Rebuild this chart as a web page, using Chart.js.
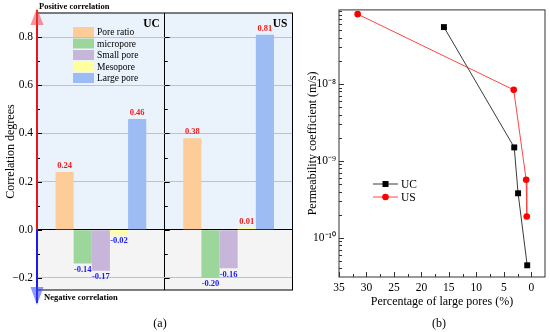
<!DOCTYPE html>
<html>
<head>
<meta charset="utf-8">
<script src="https://cdn.jsdelivr.net/npm/chart.js@4.4.0/dist/chart.umd.min.js"></script>
<style>
    body { margin: 0; background: #fff; width: 550px; height: 332px; position: relative; overflow: hidden; }
    #chartA { position: absolute; left: 0; top: 0; }
    #chartB { position: absolute; left: 296px; top: 0; }
    .cap { position: absolute; top: 316px; width: 40px; text-align: center; font: 12px 'Liberation Serif', serif; line-height: 14px; }
</style>
</head>
<body>
<canvas id="chartA" width="296" height="332"></canvas>
<canvas id="chartB" width="254" height="332"></canvas>
<div class="cap" style="left:140px">(a)</div>
<div class="cap" style="left:419px">(b)</div>
<script>
const SERIF = "'Liberation Serif', 'Times New Roman', serif";

// Datos (a): grado de correlación por tipo de poro
const groups = ['UC', 'US'];
const poreTypes = ['Pore ratio', 'micropore', 'Small pore', 'Mesopore', 'Large pore'];
const poreRatio = [0.24, 0.38];
const micropore = [-0.14, -0.20];
const smallPore = [-0.17, -0.16];
const mesopore = [-0.02, 0.01];
const largePore = [0.46, 0.81];
const poreColors = ['#fdcc98', '#9dd69b', '#c8b5da', '#ffff9c', '#9dbcf3'];
const corrTicks = [-0.2, 0, 0.2, 0.4, 0.6, 0.8];

// Datos (b): coeficiente de permeabilidad vs porcentaje de poros grandes
const ucLarge = [15.9, 3.1, 2.4, 0.74];
const ucPerm = [5.5e-8, 1.5e-9, 3.8e-10, 4.4e-11];
const usLarge = [31.6, 3.2, 0.93, 0.82];
const usPerm = [8.1e-8, 8.4e-9, 5.7e-10, 1.9e-10];
const largeTicks = [0, 5, 10, 15, 20, 25, 30, 35];
const permTicks = [1e-10, 1e-9, 1e-8];

const sup = { '-': '\u207b', '0': '\u2070', '1': '\u00b9', '2': '\u00b2', '3': '\u00b3', '4': '\u2074',
              '5': '\u2075', '6': '\u2076', '7': '\u2077', '8': '\u2078', '9': '\u2079' };

// Fondo azul / gris del panel (a)
const fondoA = {
    id: 'fondoA',
    beforeDraw(chart) {
        const { ctx, chartArea: a, scales: { y } } = chart;
        const y0 = y.getPixelForValue(0);
        ctx.save();
        ctx.fillStyle = '#eaf3fc';
        ctx.fillRect(a.left, a.top, a.right - a.left, y0 - a.top);
        ctx.fillStyle = '#f4f4f4';
        ctx.fillRect(a.left, y0, a.right - a.left, a.bottom - y0);
        ctx.restore();
    },
    afterDraw(chart) {
        const { ctx, chartArea: a, scales: { x, y } } = chart;
        const y0 = y.getPixelForValue(0);
        const xDiv = (x.getPixelForValue(0) + x.getPixelForValue(1)) / 2;
        ctx.save();

        // marco
        ctx.strokeStyle = '#000';
        ctx.lineWidth = 1;
        ctx.strokeRect(a.left, a.top, a.right - a.left, a.bottom - a.top);

        // ticks hacia dentro
        ctx.beginPath();
        for (let k = -2; k <= 8; k++) {
            const py = Math.round(y.getPixelForValue(k / 10)) + 0.5;
            const len = k % 2 === 0 ? 5 : 3;
            ctx.moveTo(a.left, py); ctx.lineTo(a.left + len, py);
            ctx.moveTo(xDiv, py); ctx.lineTo(xDiv + len, py);
        }
        ctx.stroke();

        // etiquetas de valores
        ctx.font = 'bold 8.5px ' + SERIF;
        ctx.textAlign = 'center';
        ctx.textBaseline = 'middle';
        chart.data.datasets.forEach((ds, i) => {
            chart.getDatasetMeta(i).data.forEach((bar, j) => {
                const v = ds.data[j];
                ctx.fillStyle = v >= 0 ? '#f21c1c' : '#1c1cf0';
                ctx.fillText(v.toFixed(2), bar.x, v >= 0 ? bar.y - 6 : bar.y + 6);
            });
        });

        // UC / US
        ctx.fillStyle = '#000';
        ctx.font = 'bold 11.5px ' + SERIF;
        ctx.textAlign = 'right';
        groups.forEach((g, j) => {
            const right = x.getPixelForValue(j) + (x.getPixelForValue(1) - x.getPixelForValue(0)) / 2;
            ctx.fillText(g, right - 5, a.top + 11);
        });

        // leyenda
        ctx.font = '9.5px ' + SERIF;
        ctx.textAlign = 'left';
        chart.data.datasets.forEach((ds, i) => {
            const cy = 32 + i * 11.5;
            ctx.fillStyle = ds.backgroundColor;
            ctx.fillRect(73, cy - 5, 21, 10);
            ctx.fillStyle = '#000';
            ctx.fillText(ds.label, 97, cy + 0.5);
        });

        // flechas de correlación
        const ax = a.left;
        ctx.strokeStyle = '#e8141b';
        ctx.lineWidth = 2;
        ctx.beginPath(); ctx.moveTo(ax, y0); ctx.lineTo(ax, 10); ctx.stroke();
        ctx.fillStyle = 'rgba(245,60,70,0.55)';
        ctx.beginPath(); ctx.moveTo(ax - 6.5, 25); ctx.lineTo(ax + 6.5, 25); ctx.lineTo(ax, 8); ctx.closePath(); ctx.fill();

        ctx.strokeStyle = '#1a1aee';
        ctx.beginPath(); ctx.moveTo(ax, y0); ctx.lineTo(ax, 303); ctx.stroke();
        ctx.fillStyle = 'rgba(50,70,255,0.55)';
        ctx.beginPath(); ctx.moveTo(ax - 6.5, 287); ctx.lineTo(ax + 6.5, 287); ctx.lineTo(ax, 305); ctx.closePath(); ctx.fill();

        ctx.fillStyle = '#000';
        ctx.font = 'bold 8.5px ' + SERIF;
        ctx.textBaseline = 'middle';
        ctx.fillText('Positive correlation', 39, 7);
        ctx.fillText('Negative correlation', 44, 298);
        ctx.restore();
    }
};

// Marco, ticks y leyenda del panel (b)
const marcoB = {
    id: 'marcoB',
    afterDraw(chart) {
        const { ctx, chartArea: a, scales: { x, y } } = chart;
        ctx.save();
        ctx.strokeStyle = '#333';
        ctx.lineWidth = 1;
        ctx.strokeRect(a.left, a.top, a.right - a.left, a.bottom - a.top);

        ctx.beginPath();
        for (let e = -11; e <= -8; e++) {
            for (let m = 1; m <= 9; m++) {
                const v = m * Math.pow(10, e);
                if (v < y.min || v > y.max) continue;
                const py = Math.round(y.getPixelForValue(v)) + 0.5;
                ctx.moveTo(a.left, py); ctx.lineTo(a.left + (m === 1 ? 5 : 3), py);
            }
        }
        for (let k = 0; k <= 14; k++) {
            const px = Math.round(x.getPixelForValue(k * 2.5)) + 0.5;
            ctx.moveTo(px, a.bottom); ctx.lineTo(px, a.bottom - (k % 2 === 0 ? 5 : 3));
        }
        ctx.stroke();

        // leyenda
        ctx.font = '11.5px ' + SERIF;
        ctx.textAlign = 'left';
        ctx.textBaseline = 'middle';
        chart.data.datasets.forEach((ds, i) => {
            const cy = 184 + i * 13;
            ctx.strokeStyle = ds.borderColor;
            ctx.beginPath(); ctx.moveTo(77, cy); ctx.lineTo(102, cy); ctx.stroke();
            ctx.fillStyle = ds.pointBackgroundColor;
            if (ds.pointStyle === 'rect') {
                ctx.fillRect(89.5 - 3, cy - 3, 6, 6);
            } else {
                ctx.beginPath(); ctx.arc(89.5, cy, ds.pointRadius, 0, Math.PI * 2); ctx.fill();
            }
            ctx.fillStyle = '#000';
            ctx.fillText(ds.label, 105, cy + 0.5);
        });
        ctx.restore();
    }
};

function initGraficaCorrelacion() {
    const series = [poreRatio, micropore, smallPore, mesopore, largePore];
    new Chart(document.getElementById('chartA').getContext('2d'), {
        type: 'bar',
        data: {
            labels: groups,
            datasets: poreTypes.map((name, i) => ({
                label: name,
                data: series[i],
                backgroundColor: poreColors[i],
                borderWidth: 0,
                categoryPercentage: 0.71,
                barPercentage: 1
            }))
        },
        options: {
            responsive: false,
            animation: false,
            layout: { padding: { top: 13, right: 3.5, bottom: 42, left: 0 } },
            plugins: { legend: { display: false }, tooltip: { enabled: false } },
            scales: {
                x: {
                    ticks: { display: false },
                    grid: { color: '#000', drawTicks: false, offset: true },
                    border: { display: false },
                    afterFit: s => { s.height = 0; }
                },
                y: {
                    min: -0.25,
                    max: 0.9,
                    afterBuildTicks: s => { s.ticks = corrTicks.map(v => ({ value: v })); },
                    afterFit: s => { s.width = 37; },
                    grid: {
                        drawTicks: false,
                        color: c => (c.tick && c.tick.value === 0 ? '#000' : '#c2c2c2')
                    },
                    border: { display: false },
                    ticks: {
                        color: '#000',
                        padding: 4,
                        font: { family: SERIF, size: 11.5 },
                        callback: v => (v < 0 ? '\u2212' + Math.abs(v).toFixed(1) : v.toFixed(1))
                    },
                    title: {
                        display: true,
                        text: 'Correlation degrees',
                        color: '#000',
                        font: { family: SERIF, size: 12 },
                        padding: { top: 4, bottom: 0 }
                    }
                }
            }
        },
        plugins: [fondoA]
    });
}

function initGraficaPermeabilidad() {
    new Chart(document.getElementById('chartB').getContext('2d'), {
        type: 'line',
        data: {
            datasets: [{
                label: 'UC',
                data: ucLarge.map((v, i) => ({ x: v, y: ucPerm[i] })),
                borderColor: '#3a3a3a',
                borderWidth: 1,
                pointStyle: 'rect',
                pointRadius: 4.2,
                pointBorderWidth: 0,
                pointBackgroundColor: '#000',
                pointBorderColor: '#000'
            }, {
                label: 'US',
                data: usLarge.map((v, i) => ({ x: v, y: usPerm[i] })),
                borderColor: '#ff4545',
                borderWidth: 1,
                pointStyle: 'circle',
                pointRadius: 3.3,
                pointBorderWidth: 0,
                pointBackgroundColor: '#ff0000',
                pointBorderColor: '#ff0000'
            }]
        },
        options: {
            responsive: false,
            animation: false,
            layout: { padding: { top: 5, right: 5, bottom: 0, left: 0 } },
            plugins: { legend: { display: false }, tooltip: { enabled: false } },
            scales: {
                x: {
                    type: 'linear',
                    reverse: true,
                    min: -2.5,
                    max: 35,
                    afterBuildTicks: s => { s.ticks = largeTicks.map(v => ({ value: v })); },
                    afterFit: s => { s.height = 55; },
                    grid: { display: false, drawTicks: false },
                    border: { display: false },
                    ticks: { color: '#000', padding: 4, autoSkip: false, font: { family: SERIF, size: 11.5 } },
                    title: {
                        display: true,
                        text: 'Percentage of large pores (%)',
                        color: '#000',
                        font: { family: SERIF, size: 12 },
                        padding: { top: 0, bottom: 22.8 }
                    }
                },
                y: {
                    type: 'logarithmic',
                    min: 3.1e-11,
                    max: 9.2e-8,
                    afterBuildTicks: s => { s.ticks = permTicks.map(v => ({ value: v })); },
                    afterFit: s => { s.width = 43; },
                    grid: { display: false, drawTicks: false },
                    border: { display: false },
                    ticks: {
                        color: '#000',
                        padding: 3,
                        autoSkip: false,
                        font: { family: SERIF, size: 11.5 },
                        callback: v => '10' + String(Math.round(Math.log10(v))).split('').map(c => sup[c]).join('')
                    },
                    title: {
                        display: true,
                        text: 'Permeability coefficient (m/s)',
                        color: '#000',
                        font: { family: SERIF, size: 12 },
                        padding: { top: 9.8, bottom: 0 }
                    }
                }
            }
        },
        plugins: [marcoB]
    });
}

initGraficaCorrelacion();
initGraficaPermeabilidad();
</script>
</body>
</html>
